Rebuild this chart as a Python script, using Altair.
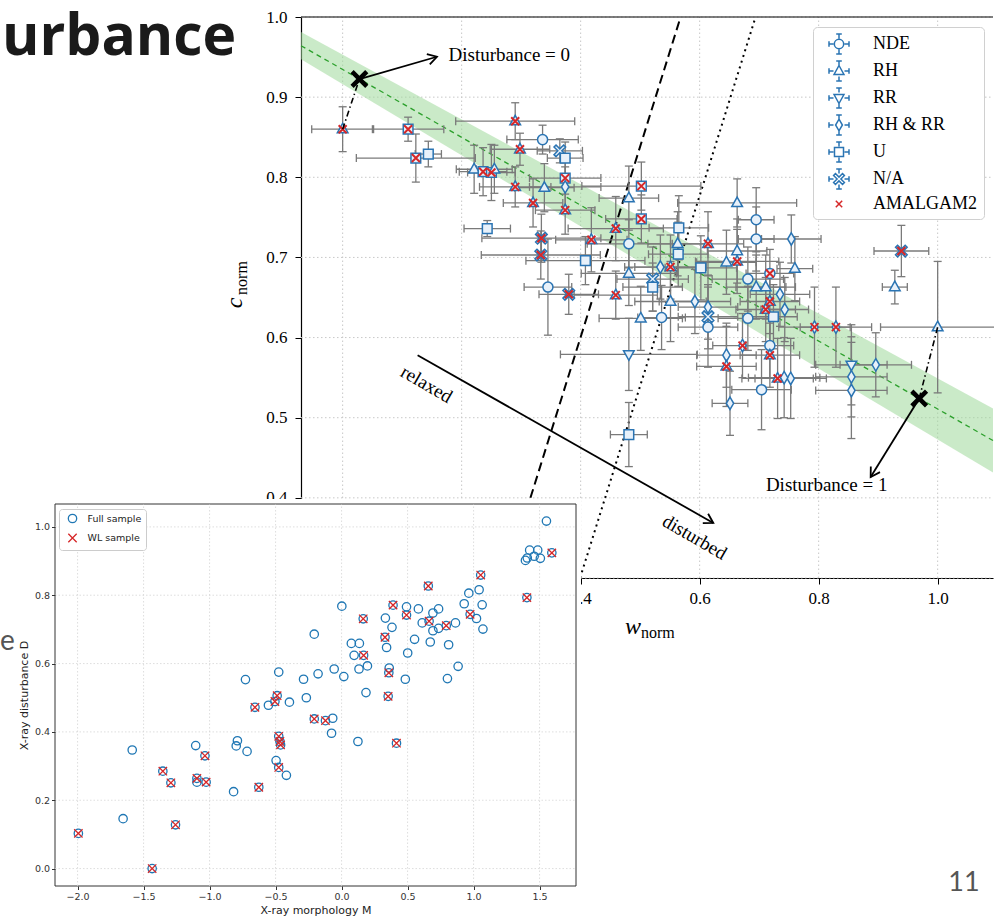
import math
import pandas as pd
import altair as alt

# ---------------- main panel: c_norm vs w_norm ----------------
category = ["RH", "U", "U", "U", "RH", "U", "U", "RH", "RH", "RH", "RH", "U",
            "NDE", "N/A", "U", "U", "RH & RR", "RH", "RH", "RH", "N/A", "N/A", "NDE", "N/A",
            "RH", "U", "RH", "NDE", "RH", "RH", "RH", "NDE", "U", "RH", "U", "U",
            "RH", "U", "RH & RR", "RH", "U", "N/A", "U", "RH", "RH & RR", "RH", "RH", "RH",
            "RH", "RH", "NDE", "RH & RR", "N/A", "NDE", "NDE", "NDE", "NDE", "RH & RR", "RH", "NDE",
            "RH", "RH", "RH & RR", "RH", "RH", "RH & RR", "U", "RH & RR", "RH & RR", "RH", "N/A", "RH",
            "RH & RR", "NDE", "RH", "RH & RR", "RH", "RH", "RH & RR", "RH & RR", "NDE", "RH & RR",
            "RR", "RH & RR", "RH & RR", "RH & RR", "RR", "U"]
w_norm = [0.000, 0.110, 0.123, 0.144, 0.221, 0.236, 0.250, 0.255, 0.290, 0.298, 0.290, 0.243,
          0.336, 0.365, 0.374, 0.374, 0.374, 0.339, 0.320, 0.374, 0.334, 0.333, 0.345, 0.380,
          0.418, 0.408, 0.459, 0.481, 0.481, 0.459, 0.501, 0.536, 0.502, 0.481, 0.502, 0.565,
          0.563, 0.564, 0.534, 0.551, 0.602, 0.521, 0.521, 0.551, 0.592, 0.614, 0.663, 0.663,
          0.663, 0.645, 0.681, 0.614, 0.614, 0.614, 0.681, 0.695, 0.695, 0.754, 0.760, 0.718,
          0.695, 0.711, 0.735, 0.718, 0.711, 0.743, 0.724, 0.793, 0.829, 1.000, 0.939, 0.928,
          0.672, 0.718, 0.718, 0.645, 0.645, 0.731, 0.753, 0.742, 0.704, 0.651,
          0.855, 0.855, 0.855, 0.896, 0.481, 0.481]
c_norm = [0.860, 0.860, 0.824, 0.829, 0.810, 0.807, 0.806, 0.810, 0.870, 0.835, 0.788, 0.736,
          0.847, 0.833, 0.824, 0.799, 0.788, 0.787, 0.768, 0.759, 0.724, 0.703, 0.663, 0.654,
          0.722, 0.696, 0.736, 0.717, 0.680, 0.653, 0.624, 0.625, 0.789, 0.774, 0.748, 0.737,
          0.717, 0.704, 0.688, 0.688, 0.687, 0.673, 0.663, 0.645, 0.645, 0.717, 0.768, 0.708,
          0.695, 0.694, 0.673, 0.638, 0.626, 0.613, 0.624, 0.747, 0.723, 0.723, 0.686, 0.680,
          0.663, 0.663, 0.654, 0.645, 0.635, 0.635, 0.626, 0.613, 0.613, 0.613, 0.708, 0.663,
          0.590, 0.590, 0.578, 0.578, 0.564, 0.549, 0.549, 0.550, 0.535, 0.518,
          0.566, 0.551, 0.534, 0.566, 0.579, 0.479]
w_err = [0.052, 0.060, 0.100, 0.022, 0.030, 0.040, 0.040, 0.030, 0.100, 0.050, 0.060, 0.039,
         0.060, 0.038, 0.030, 0.060, 0.060, 0.050, 0.050, 0.050, 0.100, 0.100, 0.040, 0.050,
         0.060, 0.100, 0.080, 0.070, 0.080, 0.070, 0.070, 0.040, 0.100, 0.050, 0.060, 0.050,
         0.050, 0.050, 0.060, 0.060, 0.060, 0.060, 0.050, 0.060, 0.060, 0.060, 0.100, 0.050,
         0.070, 0.050, 0.060, 0.050, 0.050, 0.050, 0.050, 0.030, 0.030, 0.050, 0.030, 0.040,
         0.050, 0.050, 0.050, 0.050, 0.050, 0.040, 0.040, 0.060, 0.060, 0.096, 0.046, 0.021,
         0.050, 0.040, 0.050, 0.050, 0.050, 0.060, 0.060, 0.060, 0.050, 0.030,
         0.060, 0.060, 0.060, 0.060, 0.115, 0.031]
c_err = [0.028, 0.015, 0.030, 0.016, 0.030, 0.030, 0.035, 0.030, 0.023, 0.020, 0.025, 0.010,
         0.018, 0.015, 0.020, 0.020, 0.025, 0.030, 0.030, 0.030, 0.030, 0.030, 0.060, 0.025,
         0.040, 0.030, 0.040, 0.030, 0.040, 0.030, 0.040, 0.040, 0.030, 0.040, 0.030, 0.040,
         0.040, 0.040, 0.040, 0.040, 0.040, 0.040, 0.030, 0.050, 0.040, 0.040, 0.030, 0.040,
         0.040, 0.040, 0.040, 0.040, 0.040, 0.050, 0.040, 0.040, 0.040, 0.030, 0.040, 0.030,
         0.040, 0.040, 0.040, 0.040, 0.040, 0.040, 0.040, 0.050, 0.050, 0.082, 0.032, 0.021,
         0.040, 0.040, 0.040, 0.040, 0.050, 0.050, 0.050, 0.050, 0.050, 0.040,
         0.050, 0.050, 0.060, 0.040, 0.045, 0.040]
amalgam2 = [1, 1, 1, 0, 0, 1, 1, 0, 1, 1, 1, 0,
            0, 0, 0, 1, 0, 0, 1, 1, 1, 1, 0, 1,
            1, 0, 1, 0, 0, 1, 0, 0, 1, 0, 1, 0,
            0, 0, 0, 1, 0, 0, 0, 0, 0, 1, 0, 0,
            1, 0, 0, 0, 0, 0, 0, 0, 0, 0, 0, 1,
            0, 0, 0, 1, 1, 0, 0, 1, 1, 0, 1, 0,
            1, 0, 1, 0, 1, 1, 0, 0, 0, 0,
            0, 0, 0, 0, 0, 0]

classes = ["NDE", "RH", "RR", "RH & RR", "U", "N/A"]
legend_labels = classes + ["AMALGAM2"]

# tick values
w_ticks = [0.0, 0.2, 0.4, 0.6, 0.8, 1.0]
c_ticks = [0.3, 0.4, 0.5, 0.6, 0.7, 0.8, 0.9, 1.0]

# reference line and band
band_w = [-0.07, 1.093]
band_mid = [0.9642, 0.4715]
band_half = [0.017, 0.040]

# relaxed / disturbed boundaries
dashed_w = [0.568, 0.2735]
dashed_c = [1.0, 0.3]
dotted_w = [0.694, 0.399]
dotted_c = [1.0, 0.3]

# disturbance = 0 / 1 anchors and their projections
anchor_w = [0.0282, 0.969]
anchor_c = [0.9226, 0.524]
proj_w = [0.0, 1.0]
proj_c = [0.860, 0.613]

# arrows
arrow_w0 = [0.0282, 0.969, 0.126]
arrow_c0 = [0.9226, 0.524, 0.578]
arrow_w1 = [0.1585, 0.8874, 0.6229]
arrow_c1 = [0.9504, 0.4261, 0.3687]

ann_text = ["Disturbance = 1", "relaxed", "disturbed"]
ann_w = [0.8134, 0.141, 0.5916]
ann_c = [0.4157, 0.5418, 0.3508]
ann_angle = [0, 30, 30]

# ---------------- inset: D vs M ----------------
morph_M = [1.552, 1.425, 1.486, 1.459, 1.506, 1.393, 1.407, 1.593, 1.054, 1.404, 0.657, 1.042,
           0.964, 1.065, 0.929, 0.974, 1.022, 1.071, 0.793, 0.863, 0.811, 0.883, 0.802, 0.002,
           0.164, 0.390, 0.492, 0.492, 0.582, 0.692, 0.735, 0.332, 0.382, 0.611, 0.663, 0.692,
           0.735, 0.329, 0.341, 0.553, 0.672, 0.501, 0.483, 0.074, 0.135, 0.095, 0.167, 0.132,
           0.196, 0.358, 0.361, 0.353, 0.185, -0.207, -0.056, 0.017, -0.178, -0.288, -0.267, -0.476,
           -0.728, -0.395, -0.554, -0.656, -0.505, -0.488, -0.207, -0.122, -0.067, -0.076, 0.124, 0.416,
           -0.476, -0.467, -0.462, -0.789, -0.798, -0.716, -0.496, -0.476, -0.418, -0.627, -0.818, -1.105,
           -1.035, -1.586, -1.354, -1.293, -1.096, -1.096, -1.026, -1.655, -1.258, -1.994, -1.435]
dist_D = [1.017, 0.932, 0.932, 0.914, 0.908, 0.902, 0.909, 0.924, 0.859, 0.793, 0.827, 0.816,
          0.806, 0.772, 0.775, 0.744, 0.732, 0.701, 0.711, 0.719, 0.655, 0.592, 0.556, 0.768,
          0.731, 0.771, 0.766, 0.742, 0.760, 0.748, 0.760, 0.733, 0.706, 0.719, 0.724, 0.696,
          0.703, 0.677, 0.647, 0.671, 0.663, 0.631, 0.554, 0.659, 0.659, 0.624, 0.624, 0.584,
          0.593, 0.573, 0.587, 0.504, 0.515, 0.686, 0.584, 0.562, 0.570, 0.554, 0.500, 0.575,
          0.553, 0.487, 0.478, 0.472, 0.489, 0.506, 0.438, 0.433, 0.440, 0.396, 0.372, 0.367,
          0.387, 0.372, 0.362, 0.374, 0.359, 0.343, 0.316, 0.296, 0.273, 0.238, 0.225, 0.360,
          0.330, 0.347, 0.285, 0.251, 0.264, 0.253, 0.253, 0.146, 0.128, 0.103, 0.000]
wl_sample = [0, 0, 0, 0, 0, 0, 0, 1, 1, 1, 1, 0,
             0, 0, 0, 1, 0, 0, 1, 0, 0, 0, 0, 0,
             1, 1, 0, 1, 0, 0, 0, 0, 0, 0, 1, 0,
             0, 1, 0, 0, 0, 0, 0, 0, 0, 0, 1, 0,
             0, 1, 0, 1, 0, 0, 0, 0, 0, 0, 0, 0,
             0, 0, 0, 1, 1, 1, 1, 1, 0, 0, 0, 1,
             1, 1, 1, 0, 0, 0, 0, 1, 0, 1, 0, 0,
             1, 0, 1, 1, 1, 0, 1, 0, 1, 1, 1]
inset_series = ["Full sample", "WL sample"]
M_ticks = [-2.0, -1.5, -1.0, -0.5, 0.0, 0.5, 1.0, 1.5]
D_ticks = [0.0, 0.2, 0.4, 0.6, 0.8, 1.0]

# ---------------- styles / layout ----------------
SERIF = "Liberation Serif"
SANS = "DejaVu Sans"
BLUE = "#2a74b3"
FILL = "#e8f1fa"
GRAY = "#7a7a7a"
RED = "#d62728"
CW, CH = 994, 918

XDOM = [-0.07, 1.093]
YDOM = [0.3, 1.0]
BX = [301, 993]      # main panel pixel range
BY = [578, 17]
PXU = (BX[1] - BX[0]) / (XDOM[1] - XDOM[0])
PYU = (BY[0] - BY[1]) / (YDOM[1] - YDOM[0])

IXDOM = [-2.171, 1.776]
IYDOM = [-0.051, 1.067]
IX = [55, 576]       # inset pixel range
IY = [886, 504]
INSET_PAPER = dict(x=0, x2=581, y=499, y2=918)   # white paper of the pasted inset figure


def poly(pts, s=1.0):
    return "M" + "L".join(f"{x * s:.3f},{y * s:.3f}" for x, y in pts) + "Z"


def circ(r):
    return f"M{-r:.3f},0A{r:.3f},{r:.3f} 0 1,0 {r:.3f},0A{r:.3f},{r:.3f} 0 1,0 {-r:.3f},0Z"


def fat_x(a=0.24, L=1.15):
    plus = [(a, a), (a, L), (-a, L), (-a, a), (-L, a), (-L, -a), (-a, -a), (-a, -L),
            (a, -L), (a, -a), (L, -a), (L, a)]
    r = 1 / math.sqrt(2)
    return [((x - y) * r, (x + y) * r) for x, y in plus]


TRI_UP = [(0, -1.0), (0.9, 0.62), (-0.9, 0.62)]
TRI_DN = [(0, 1.0), (0.9, -0.62), (-0.9, -0.62)]
DIAM = [(0, -1.05), (0.62, 0), (0, 1.05), (-0.62, 0)]
SQ = [(-0.82, -0.82), (0.82, -0.82), (0.82, 0.82), (-0.82, 0.82)]
XP = "M-1,-1L1,1M-1,1L1,-1"

data_shapes = [circ(0.85), poly(TRI_UP), poly(TRI_DN), poly(DIAM), poly(SQ), poly(fat_x())]
ARMS = ("M-1,0L-0.55,0M0.55,0L1,0M0,-1L0,-0.55M0,0.55L0,1"
        "M-1,-0.28L-1,0.28M1,-0.28L1,0.28M-0.28,-1L0.28,-1M-0.28,1L0.28,1")
k = 0.55
legend_shapes = [circ(0.85 * k) + ARMS, poly(TRI_UP, k) + ARMS, poly(TRI_DN, k) + ARMS,
                 poly(DIAM, k) + ARMS, poly(SQ, k) + ARMS, poly(fat_x(), k) + ARMS,
                 "M-0.32,-0.32L0.32,0.32M-0.32,0.32L0.32,-0.32"]

# ---- main panel scales / axes
xs = alt.Scale(domain=XDOM, range=BX, nice=False, zero=False)
ys = alt.Scale(domain=YDOM, range=BY, nice=False, zero=False)
big_ax = dict(format=".1f", title=None, grid=False, labelFont=SERIF, labelFontSize=17,
              labelColor="black", tickColor="black", tickSize=6, domainColor="black",
              domainWidth=1.2, labelFlush=False, zindex=0)
x_axis = alt.Axis(orient="bottom", offset=BY[0] - CH, values=w_ticks, labelPadding=6, **big_ax)
y_axis = alt.Axis(orient="left", offset=-BX[0], values=c_ticks, labelPadding=8, **big_ax)


def X(f):
    return alt.X(f, type="quantitative", scale=xs, axis=x_axis)


def Y(f):
    return alt.Y(f, type="quantitative", scale=ys, axis=y_axis)


pts = pd.DataFrame({"cat": category, "w": w_norm, "c": c_norm, "we": w_err,
                    "ce": c_err, "am": amalgam2})
pts["w0"] = pts.w - pts.we
pts["w1"] = pts.w + pts.we
pts["c0"] = pts.c - pts.ce
pts["c1"] = pts.c + pts.ce

grid_v = alt.Chart(pd.DataFrame({"w": w_ticks, "lo": YDOM[0], "hi": YDOM[1]})).mark_rule(
    color="#c8c8c8", strokeDash=[1.5, 2.5], strokeWidth=1).encode(x=X("w"), y=Y("lo"), y2=alt.Y2("hi"))
grid_h = alt.Chart(pd.DataFrame({"c": c_ticks, "lo": XDOM[0], "hi": XDOM[1]})).mark_rule(
    color="#c8c8c8", strokeDash=[1.5, 2.5], strokeWidth=1).encode(y=Y("c"), x=X("lo"), x2=alt.X2("hi"))

band = pd.DataFrame({"w": band_w, "mid": band_mid, "half": band_half})
band["lo"] = band.mid - band.half
band["hi"] = band.mid + band.half
band_area = alt.Chart(band).mark_area(color="#9fd89a", opacity=0.55).encode(
    x=X("w"), y=Y("lo"), y2=alt.Y2("hi"))
band_line = alt.Chart(band).mark_line(color="#2ca02c", strokeDash=[5, 4], strokeWidth=1.3).encode(
    x=X("w"), y=Y("mid"))

dashed = alt.Chart(pd.DataFrame({"w": dashed_w, "c": dashed_c})).mark_line(
    color="black", strokeDash=[9, 5], strokeWidth=2).encode(x=X("w"), y=Y("c"))
dotted = alt.Chart(pd.DataFrame({"w": dotted_w, "c": dotted_c})).mark_line(
    color="black", strokeDash=[2, 4], strokeWidth=2).encode(x=X("w"), y=Y("c"))

hbars = alt.Chart(pts).mark_rule(color=GRAY, strokeWidth=1.3).encode(
    x=X("w0"), x2=alt.X2("w1"), y=Y("c"))
vbars = alt.Chart(pts).mark_rule(color=GRAY, strokeWidth=1.3).encode(
    x=X("w"), y=Y("c0"), y2=alt.Y2("c1"))
caps_h_df = pd.concat([pd.DataFrame({"w": pts.w0, "c": pts.c}), pd.DataFrame({"w": pts.w1, "c": pts.c})])
caps_v_df = pd.concat([pd.DataFrame({"w": pts.w, "c": pts.c0}), pd.DataFrame({"w": pts.w, "c": pts.c1})])
caps_h = alt.Chart(caps_h_df).mark_tick(orient="vertical", size=8, thickness=1.3, color=GRAY,
                                       opacity=1).encode(x=X("w"), y=Y("c"))
caps_v = alt.Chart(caps_v_df).mark_tick(orient="horizontal", size=8, thickness=1.3, color=GRAY,
                                       opacity=1).encode(x=X("w"), y=Y("c"))

markers = alt.Chart(pts).mark_point(filled=True, fill=FILL, stroke=BLUE, strokeWidth=1.5,
                                    size=140, opacity=1).encode(
    x=X("w"), y=Y("c"),
    shape=alt.Shape("cat:N", scale=alt.Scale(domain=classes, range=data_shapes), legend=None))
redx = alt.Chart(pts).transform_filter("datum.am == 1").mark_point(
    shape=XP, filled=False, stroke=RED, strokeWidth=2, size=64, opacity=1).encode(
    x=X("w"), y=Y("c"))

proj = pd.DataFrame({"seg": [0, 0, 1, 1],
                     "w": [proj_w[0], anchor_w[0], proj_w[1], anchor_w[1]],
                     "c": [proj_c[0], anchor_c[0], proj_c[1], anchor_c[1]]})
proj_lines = alt.Chart(proj).mark_line(color="black", strokeDash=[6, 3, 1.5, 3], strokeWidth=1.6).encode(
    x=X("w"), y=Y("c"), detail="seg:N")

anchors = alt.Chart(pd.DataFrame({"w": anchor_w, "c": anchor_c})).mark_point(
    shape=poly(fat_x(0.26, 1.2)), filled=True, color="black", size=300, opacity=1).encode(
    x=X("w"), y=Y("c"))

arr = pd.DataFrame({"a": [0, 1, 2], "w0": arrow_w0, "c0": arrow_c0, "w1": arrow_w1, "c1": arrow_c1})
arr["ang"] = [(math.degrees(math.atan2(-(c1 - c0) * PYU, (w1 - w0) * PXU)) + 360) % 360
              for w0, c0, w1, c1 in zip(arrow_w0, arrow_c0, arrow_w1, arrow_c1)]
arrow_lines = alt.Chart(arr).mark_rule(color="black", strokeWidth=1.8).encode(
    x=X("w0"), y=Y("c0"), x2=alt.X2("w1"), y2=alt.Y2("c1"))
arrow_heads = alt.Chart(arr).mark_point(shape="M-1,-0.6L0,0L-1,0.6", filled=False, stroke="black",
                                        strokeWidth=1.8, size=324, opacity=1).encode(
    x=X("w1"), y=Y("c1"), angle=alt.Angle("ang:Q", scale=None))

ann0 = alt.Chart(pd.DataFrame({"t": ["Disturbance = 0"], "w": [0.178], "c": [0.953]})).mark_text(
    font=SERIF, fontSize=19, align="left", baseline="middle", color="black").encode(
    x=X("w"), y=Y("c"), text="t:N")
anns = alt.Chart(pd.DataFrame({"t": ann_text, "w": ann_w, "c": ann_c, "ang": ann_angle})).mark_text(
    font=SERIF, fontSize=19, align="center", baseline="middle", color="black").encode(
    x=X("w"), y=Y("c"), text="t:N", angle=alt.Angle("ang:Q", scale=None))

top_rule = alt.Chart(pd.DataFrame({"c": [1.0], "lo": [XDOM[0]], "hi": [XDOM[1]]})).mark_rule(
    color="black", strokeWidth=1.2).encode(y=Y("c"), x=X("lo"), x2=alt.X2("hi"))

big_legend = alt.Legend(title=None, orient="none", legendX=813, legendY=27, labelFont=SERIF,
                        labelFontSize=18, labelColor="black", symbolSize=400, symbolStrokeWidth=1.5,
                        padding=6, rowPadding=1, labelOffset=23, symbolOffset=9,
                        strokeColor="#d0d0d0", fillColor="white", cornerRadius=4, zindex=2)
leg_df = pd.DataFrame({"lcat": legend_labels, "w": [5.0] * 7, "c": [0.5] * 7})
legend_layer = alt.Chart(leg_df).mark_point(filled=True, size=400, strokeWidth=1.5, opacity=1,
                                            clip=True).encode(
    x=X("w"), y=Y("c"),
    shape=alt.Shape("lcat:N", scale=alt.Scale(domain=legend_labels, range=legend_shapes), legend=big_legend),
    stroke=alt.Stroke("lcat:N", scale=alt.Scale(domain=legend_labels, range=[BLUE] * 6 + [RED]),
                      legend=big_legend),
    fill=alt.Fill("lcat:N", scale=alt.Scale(domain=legend_labels, range=["white"] * 6 + ["transparent"]),
                  legend=big_legend))

big = alt.layer(
    grid_v, grid_h, band_area, band_line, dashed, dotted, hbars, vbars, caps_h, caps_v, markers, redx,
    proj_lines, anchors, arrow_lines, arrow_heads, ann0, anns, top_rule, legend_layer
).resolve_scale(shape="independent", stroke="independent", fill="independent")

# ---------------- inset ----------------
ixs = alt.Scale(domain=IXDOM, range=IX, nice=False, zero=False)
iys = alt.Scale(domain=IYDOM, range=IY, nice=False, zero=False)
iax = dict(format=".1f", grid=False, labelFont=SANS, labelFontSize=9.5, labelColor="#333",
           tickColor="#333", tickSize=3.5, labelPadding=2, domain=False, titleFont=SANS,
           titleFontSize=11, titleFontWeight="normal", titleColor="#222", labelFlush=False, zindex=1)
ix_axis = alt.Axis(orient="bottom", offset=IY[0] - CH, values=M_ticks, title="X-ray morphology M",
                   titlePadding=3, **iax)
iy_axis = alt.Axis(orient="left", offset=-IX[0], values=D_ticks, title="X-ray disturbance D",
                   titlePadding=5, **iax)


def IXe(f):
    return alt.X(f, type="quantitative", scale=ixs, axis=ix_axis)


def IYe(f):
    return alt.Y(f, type="quantitative", scale=iys, axis=iy_axis)


paper = alt.Chart(pd.DataFrame({"p": [0]})).mark_rect(fill="white").encode(
    x=alt.value(INSET_PAPER["x"]), x2=alt.value(INSET_PAPER["x2"]),
    y=alt.value(INSET_PAPER["y"]), y2=alt.value(INSET_PAPER["y2"]))
frame = alt.Chart(pd.DataFrame({"x0": [IXDOM[0]], "x1": [IXDOM[1]], "y0": [IYDOM[0]], "y1": [IYDOM[1]]})
                  ).mark_rect(fill="white", stroke="#333", strokeWidth=1).encode(
    x=IXe("x0"), x2=alt.X2("x1"), y=IYe("y0"), y2=alt.Y2("y1"))
igrid_v = alt.Chart(pd.DataFrame({"m": M_ticks, "lo": IYDOM[0], "hi": IYDOM[1]})).mark_rule(
    color="#d6d6d6", strokeDash=[1.5, 2], strokeWidth=0.8).encode(x=IXe("m"), y=IYe("lo"), y2=alt.Y2("hi"))
igrid_h = alt.Chart(pd.DataFrame({"d": D_ticks, "lo": IXDOM[0], "hi": IXDOM[1]})).mark_rule(
    color="#d6d6d6", strokeDash=[1.5, 2], strokeWidth=0.8).encode(y=IYe("d"), x=IXe("lo"), x2=alt.X2("hi"))

inset_df = pd.DataFrame({
    "M": morph_M + [m for m, f in zip(morph_M, wl_sample) if f],
    "D": dist_D + [d for d, f in zip(dist_D, wl_sample) if f],
    "series": [inset_series[0]] * len(morph_M) + [inset_series[1]] * sum(wl_sample),
})
ileg = alt.Legend(title=None, orient="none", legendX=59, legendY=509, labelFont=SANS, labelFontSize=9.5,
                  labelColor="#222", symbolSize=70, symbolStrokeWidth=1.3, padding=4.5,
                  rowPadding=5.5, labelOffset=10, symbolOffset=4, strokeColor="#cccccc",
                  fillColor="white", cornerRadius=3, zindex=2)
inset_pts = alt.Chart(inset_df).mark_point(filled=False, size=70, strokeWidth=1.3, opacity=1).encode(
    x=IXe("M"), y=IYe("D"),
    shape=alt.Shape("series:N", scale=alt.Scale(domain=inset_series, range=["circle", XP]), legend=ileg),
    color=alt.Color("series:N", scale=alt.Scale(domain=inset_series, range=["#1f77b4", RED]), legend=ileg),
)
inset = alt.layer(frame, igrid_v, igrid_h, inset_pts)

# ---------------- free texts (slide heading fragment, axis titles with subscripts) ----------------
def label(t, x, y, **kw):
    return alt.Chart(pd.DataFrame({"t": [t]})).mark_text(**kw).encode(
        text="t:N", x=alt.value(x), y=alt.value(y))


texts = [
    label("urbance", 2, 55, font="Open Sans", fontWeight="bold", fontSize=57, align="left",
          baseline="alphabetic", color="#1a1a1a"),
    label("w", 641, 634, font=SERIF, fontStyle="italic", fontSize=24, align="right", baseline="alphabetic"),
    label("norm", 641, 638, font=SERIF, fontSize=16, align="left", baseline="alphabetic"),
    label("c", 242, 303, font=SERIF, fontStyle="italic", fontSize=24, align="center",
          baseline="alphabetic", angle=270),
    label("norm", 247, 278, font=SERIF, fontSize=16, align="center", baseline="alphabetic", angle=270),
    label("e", 0, 642, font="Lato", fontSize=28, align="left", baseline="middle", color="#555"),
    label("11", 964, 883, font="Lato", fontSize=27, align="center", baseline="middle", color="#555"),
]

chart = alt.layer(big, paper, inset, *texts).resolve_scale(
    x="independent", y="independent", shape="independent", color="independent",
    stroke="independent", fill="independent"
).properties(
    width=CW, height=CH, autosize=alt.AutoSizeParams(type="none"), padding=0, background="white"
).configure_view(stroke=None)

chart.save("out.html", embed_options={"renderer": "svg", "actions": False})
